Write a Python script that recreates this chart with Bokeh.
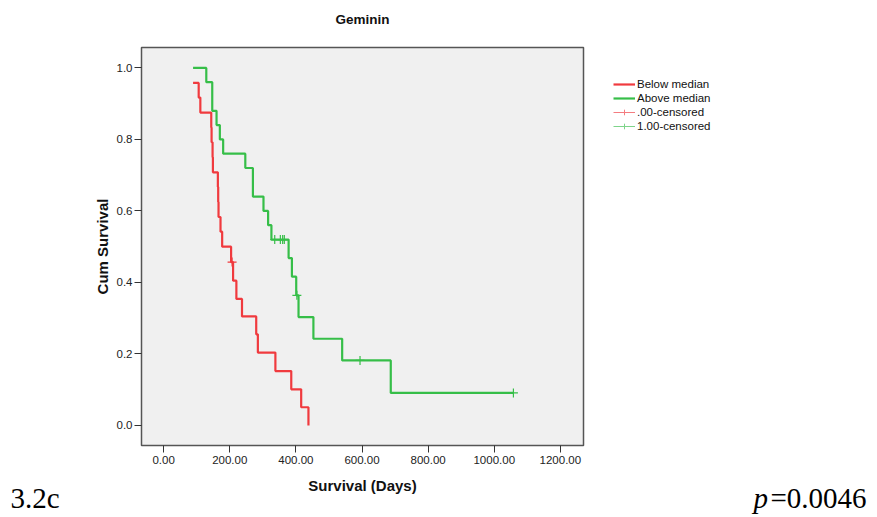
from bokeh.plotting import figure
from bokeh.models import (Range1d, FixedTicker, NumeralTickFormatter, Legend,
                          LegendItem, Title)
from bokeh.embed import file_html
from bokeh.resources import INLINE

title_text = "Geminin"
x_label = "Survival (Days)"
y_label = "Cum Survival"
x_ticks = [0, 200, 400, 600, 800, 1000, 1200]
y_ticks = [0.0, 0.2, 0.4, 0.6, 0.8, 1.0]
series_names = ["Below median", "Above median", ".00-censored", "1.00-censored"]

below_days = [89, 106, 111, 144, 145, 148, 149, 164, 165, 166, 172, 177,
              204, 210, 220, 237, 280, 285, 338, 386, 416, 438]
below_surv = [0.958, 0.917, 0.875, 0.833, 0.792, 0.750, 0.708, 0.667, 0.625,
              0.583, 0.542, 0.500, 0.457, 0.405, 0.354, 0.305, 0.255, 0.204,
              0.152, 0.101, 0.051, 0.0]
below_cens_days = [207]
below_cens_surv = [0.457]

above_days = [89, 129, 147, 160, 170, 180, 247, 270, 302, 316, 326, 378,
              388, 401, 408, 453, 540, 687, 1058]
above_surv = [1.0, 0.96, 0.88, 0.84, 0.80, 0.76, 0.72, 0.64, 0.60, 0.56,
              0.52, 0.468, 0.416, 0.364, 0.303, 0.2425, 0.182, 0.091, 0.091]
above_cens_days = [336, 353, 360, 365, 403, 594, 1058]
above_cens_surv = [0.52, 0.52, 0.52, 0.52, 0.364, 0.182, 0.091]

fig_label = "3.2c"
p_letter = "p"
p_value_text = "=0.0046"

RED = "#F03A3E"
GREEN = "#36BE48"
FONT = "Liberation Sans"
SERIF = "Liberation Serif"
NAN = float("nan")

FRAME_L, FRAME_W = 141, 442

p = figure(frame_width=FRAME_W, frame_height=398, output_backend="svg",
           toolbar_location=None, title=None,
           x_range=Range1d(-67, 1270), y_range=Range1d(-0.056, 1.057),
           min_border_left=FRAME_L, min_border_right=0, min_border_top=47,
           min_border_bottom=72)
p.background_fill_color = "#F0F0F0"
p.border_fill_color = "white"
p.outline_line_color = "#555555"
p.outline_line_width = 1.5
p.grid.visible = False

# title: a thin spacer next to the frame, then the title text above it
p.add_layout(Title(text=" ", text_font_size="2px", standoff=17), "above")
p.add_layout(Title(text=title_text, align="center", text_font=FONT,
                   text_font_size="13.5px", text_font_style="bold",
                   text_color="#111111", standoff=0), "above")

for ax in (p.xaxis[0], p.yaxis[0]):
    ax.axis_line_color = None
    ax.major_tick_in = 0
    ax.major_tick_out = 7
    ax.major_tick_line_color = "#333333"
    ax.minor_tick_line_color = None
    ax.major_label_text_font = FONT
    ax.major_label_text_font_size = "11.5px"
    ax.major_label_text_color = "#222222"
    ax.axis_label_text_font = FONT
    ax.axis_label_text_font_style = "bold"
    ax.axis_label_text_color = "#111111"
    ax.axis_label_text_font_size = "15px"

p.xaxis.ticker = FixedTicker(ticks=x_ticks)
p.yaxis.ticker = FixedTicker(ticks=y_ticks)
p.xaxis.formatter = NumeralTickFormatter(format="0.00")
p.yaxis.formatter = NumeralTickFormatter(format="0.0")
p.xaxis.axis_label = x_label
p.yaxis.axis_label = y_label
p.xaxis.major_label_standoff = 3
p.xaxis.axis_label_standoff = 10
p.yaxis.major_label_standoff = 2
p.yaxis.axis_label_standoff = 3

r_below = p.step(below_days, below_surv, mode="after", line_color=RED, line_width=2.2)
r_above = p.step(above_days, above_surv, mode="after", line_color=GREEN, line_width=2.2)
c_below = p.scatter(below_cens_days, below_cens_surv, marker="cross", size=9,
                    line_color=RED, line_width=1.2)
c_above = p.scatter(above_cens_days, above_cens_surv, marker="cross", size=9,
                    line_color=GREEN, line_width=1.2)
# legend-only helpers (no visible data)
l_below = p.line([NAN], [NAN], line_color="#F47C80", line_width=1)
l_above = p.line([NAN], [NAN], line_color="#7ED48A", line_width=1)
m_below = p.scatter([NAN], [NAN], marker="cross", size=12, line_color="#F47C80", line_width=1)
m_above = p.scatter([NAN], [NAN], marker="cross", size=12, line_color="#7ED48A", line_width=1)

legend = Legend(items=[
    LegendItem(label=series_names[0], renderers=[r_below]),
    LegendItem(label=series_names[1], renderers=[r_above]),
    LegendItem(label=series_names[2], renderers=[l_below, m_below]),
    LegendItem(label=series_names[3], renderers=[l_above, m_above]),
], location="top_left")
legend.glyph_width = 22
legend.glyph_height = 14
legend.label_height = 14
legend.label_standoff = 2
legend.label_width = 210          # makes the right panel 294 px wide
legend.spacing = 0
legend.padding = 0
legend.margin = 30
legend.border_line_color = None
legend.background_fill_alpha = 0
legend.label_text_font = FONT
legend.label_text_font_size = "11.5px"
legend.label_text_color = "#111111"
p.add_layout(legend, "right")


# bottom-row texts: zero-height titles below the x axis, shifted sideways
def bottom_text(text, canvas_x, style="normal", size=29):
    h = 1.107 * size
    return Title(text=text, align="left", offset=canvas_x - FRAME_L,
                 vertical_align="bottom", standoff=-(h + 2),
                 text_font=SERIF, text_font_size=f"{size}px",
                 text_font_style=style, text_color="black")


p.add_layout(bottom_text(fig_label, 10), "below")
p.add_layout(bottom_text(p_letter, 753, "italic"), "below")
p.add_layout(bottom_text(p_value_text, 770), "below")

open("out.html", "w").write(file_html(p, INLINE))
